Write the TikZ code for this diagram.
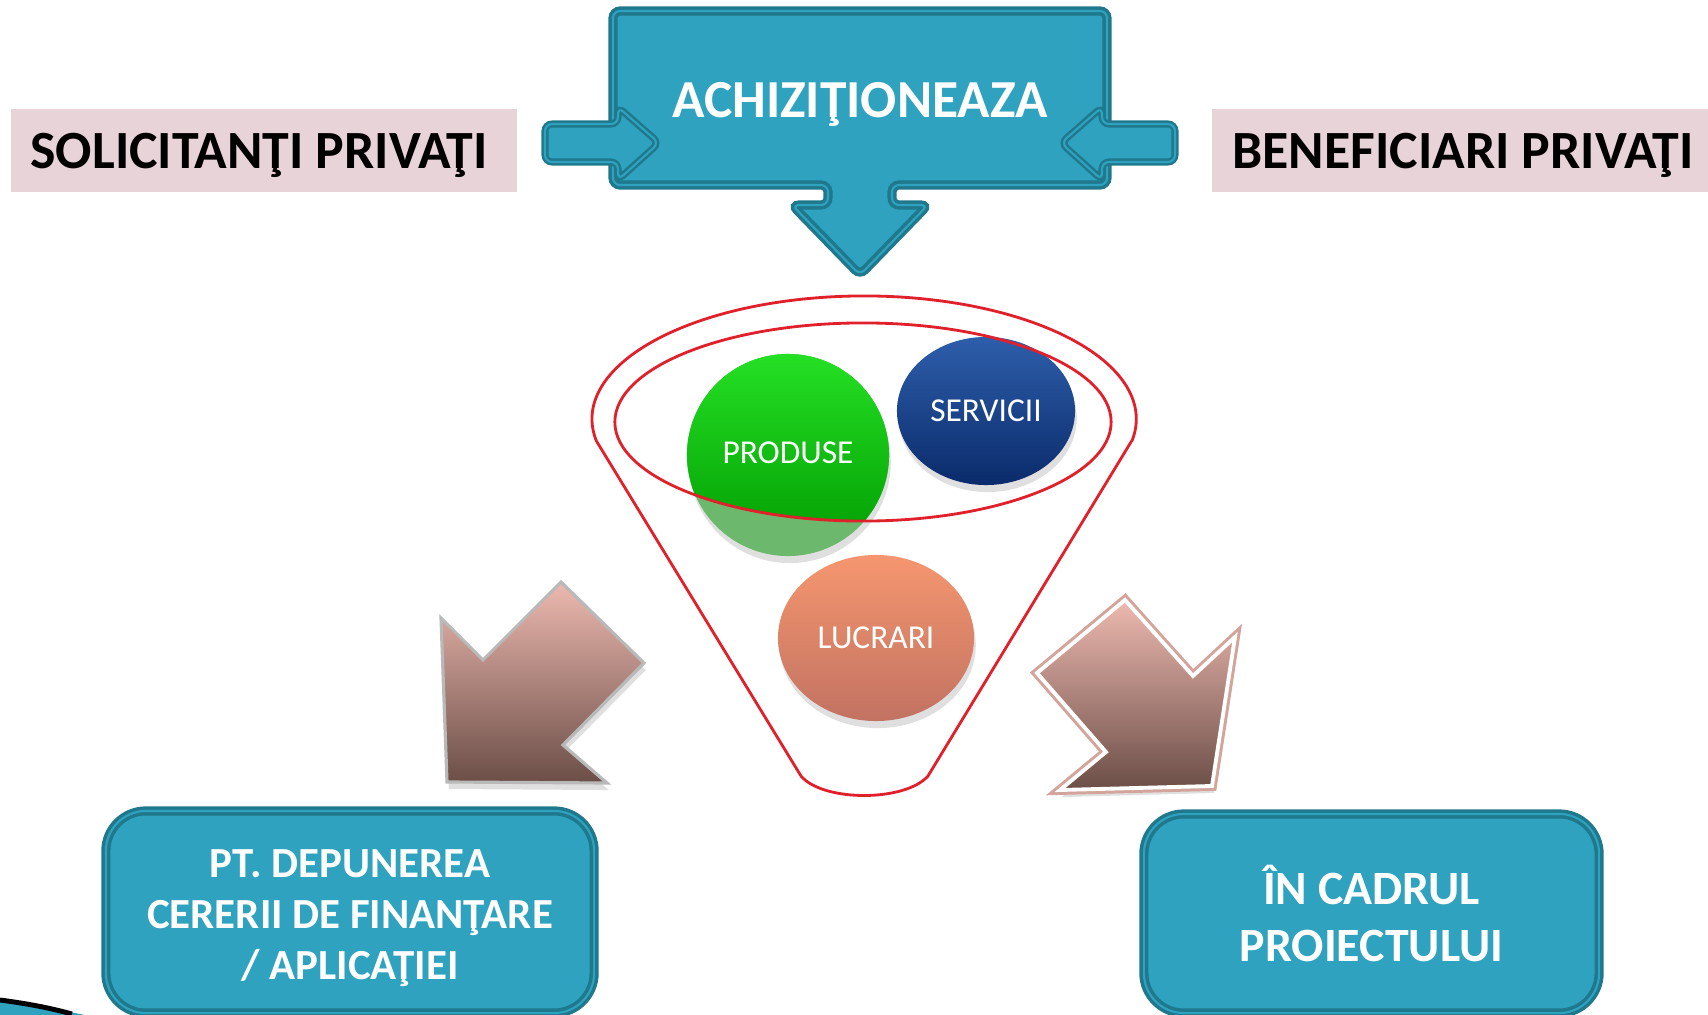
\documentclass[tikz,border=0pt]{standalone}
\usepackage{fontspec}
\setmainfont{Carlito}
\usetikzlibrary{shadows}

\definecolor{tealclaro}{HTML}{2EA2BF}
\definecolor{tealoscuro}{HTML}{1F788C}
\definecolor{rosa}{HTML}{E8D3D8}
\definecolor{rojo}{HTML}{E0202A}
\definecolor{marronclaro}{HTML}{EDB9B0}
\definecolor{marronoscuro}{HTML}{6B4E47}
\definecolor{verdeclaro}{HTML}{25E025}
\definecolor{verdeoscuro}{HTML}{009A00}
\definecolor{verdepalido}{HTML}{6CB86C}
\definecolor{azulclaro}{HTML}{2E5EAA}
\definecolor{azuloscuro}{HTML}{0A2B6B}
\definecolor{salmonclaro}{HTML}{F5966F}
\definecolor{salmonoscuro}{HTML}{C27262}

\tikzset{
	marco/.style = {
		fill = tealclaro, draw = tealoscuro, line width = 2.6pt,
		rounded corners = 2pt,
		postaction = {draw = tealoscuro, line width = 0.4pt,
			double = tealclaro, double distance = 0.6pt}
	},
	caja/.style = {
		marco, rounded corners = 0.4cm, align = center, text = white,
		font = \fontsize{12.2}{14.5}\selectfont\bfseries
	},
	rotulo/.style = {
		font = \fontsize{15.3}{19}\selectfont\bfseries
	},
	bola/.style = {
		text = white, font = \fontsize{9.5}{11}\selectfont
	},
	sombra/.style = {
		drop shadow = {shadow xshift = 0.5pt, shadow yshift = -2pt, opacity = 0.25}
	},
	flecha/.style = {
		top color = marronclaro, bottom color = marronoscuro,
		sombra
	}
}

\begin{document}
\begin{tikzpicture}[x = 0.01cm, y = -0.01cm]

	% márgenes del dibujo
	\useasboundingbox (0,0) rectangle (1708,1015);

	% rótulos superiores
	\fill[rosa] (11,109) rectangle (517,192);
	\fill[rosa] (1212,109) rectangle (1708,192);
	\node[rotulo] (sol) at (259,155) {SOLICITANŢI PRIVAŢI};
	\node[rotulo] (ben) at (1463,155) {BENEFICIARI PRIVAŢI};

	% caja central con flecha hacia abajo
	\draw[marco]
		(613,11) -- (1107,11) -- (1107,185) -- (892,185) -- (892,205)
		-- (928,205) -- (860,275) -- (792,205) -- (828,205)
		-- (828,185) -- (613,185) -- cycle;

	% flechas laterales
	\draw[marco, line width = 2pt]
		(545,124) -- (618,124) -- (618,107) -- (659,143)
		-- (618,180) -- (618,162) -- (545,162) -- cycle;
	\draw[marco, line width = 2pt]
		(1175,124) -- (1102,124) -- (1102,107) -- (1061,143)
		-- (1102,180) -- (1102,162) -- (1175,162) -- cycle;

	\node[rotulo, text = white, font = \fontsize{15.2}{19}\selectfont\bfseries]
		(acq) at (860,104) {ACHIZIŢIONEAZA};

	% esferas
	\fill[verdepalido, sombra] (788,455) circle[radius = 1.01cm];
	\begin{scope}
		\clip (863,422) ellipse[x radius = 2.48cm, y radius = 0.99cm];
		\shade[top color = verdeclaro, bottom color = verdeoscuro]
			(788,455) circle[radius = 1.01cm];
	\end{scope}
	\node[bola] (prod) at (788,453) {PRODUSE};

	\shade[top color = azulclaro, bottom color = azuloscuro, sombra]
		(986,411) ellipse[x radius = 0.89cm, y radius = 0.74cm];
	\node[bola] (serv) at (986,411) {SERVICII};

	\shade[top color = salmonclaro, bottom color = salmonoscuro, sombra]
		(876,638) ellipse[x radius = 0.98cm, y radius = 0.83cm];
	\node[bola] (lucr) at (876,638) {LUCRARI};

	% embudo
	\draw[rojo, line width = 0.8pt]
		(1131.6,441) -- (928,776) .. controls (905,802) and (823,802) .. (801,776)
		-- (596.4,441)
		arc[start angle = 190.3, end angle = -10.3,
			x radius = 2.72cm, y radius = 1.23cm];
	\draw[rojo, line width = 0.8pt]
		(863,422) ellipse[x radius = 2.48cm, y radius = 0.99cm];

	% flechas marrones
	\draw[flecha, draw = gray!55, line width = 0.9pt]
		(441,618) -- (483,660) -- (561,582) -- (644,663)
		-- (563,745) -- (607,783) -- (447,782) -- cycle;
	\draw[flecha, draw = white, line width = 1.1pt,
		preaction = {draw = marronclaro!80!marronoscuro, line width = 2.8pt}]
		(1037,673) -- (1125,600) -- (1193,676) -- (1235,637)
		-- (1212,786) -- (1060,790) -- (1106,752) -- cycle;

	% cajas inferiores
	\node[caja, minimum width = 4.88cm, minimum height = 2.02cm] (dep)
		at (350,912) {};
	\node[text = white, align = center,
		font = \fontsize{12.2}{14.5}\selectfont\bfseries] (deptxt)
		at (350,918) {PT. DEPUNEREA\\CERERII DE FINANŢARE\\/ APLICAŢIEI};
	\node[caja, minimum width = 4.55cm, minimum height = 1.99cm,
		font = \fontsize{13.6}{16}\selectfont\bfseries] (proi)
		at (1371.5,913.5) {ÎN CADRUL\\PROIECTULUI};

	% adorno de la esquina
	\fill[tealclaro] (0,1000) .. controls (30,1004) and (55,1009) .. (85,1015)
		-- (0,1015) -- cycle;
	\draw[black, line width = 1.4pt] (0,1000) .. controls (30,1004) and (50,1008) .. (72,1014);

\end{tikzpicture}
\end{document}
